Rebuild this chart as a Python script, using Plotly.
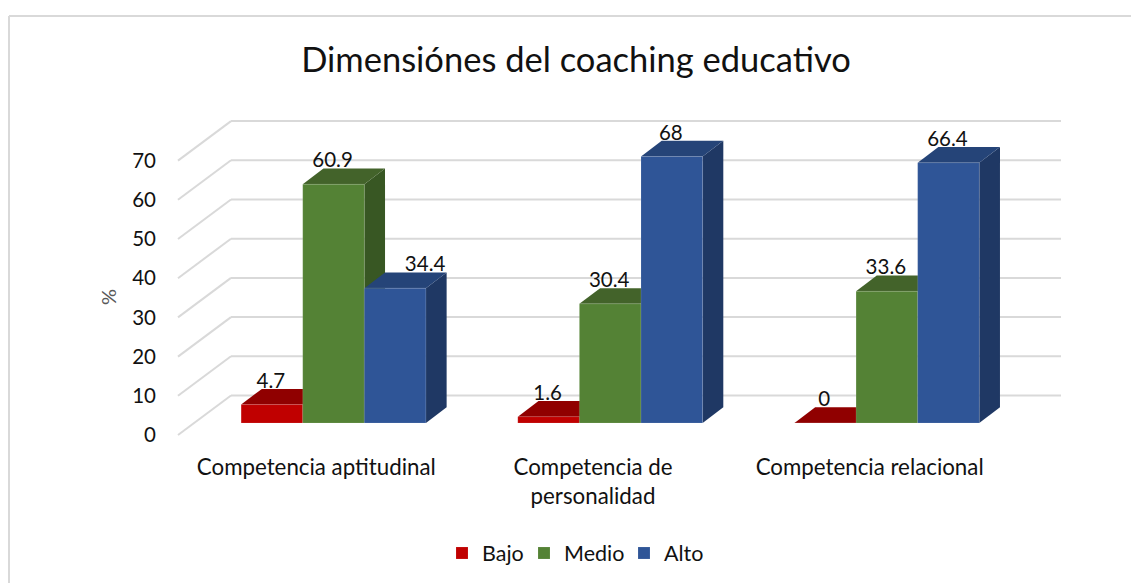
import plotly.graph_objects as go

# ---- data ----
categories = ["Competencia aptitudinal", "Competencia de<br>personalidad", "Competencia relacional"]
bajo = [4.7, 1.6, 0]
medio = [60.9, 30.4, 33.6]
alto = [34.4, 68, 66.4]
y_ticks = [0, 10, 20, 30, 40, 50, 60, 70]
title_text = "Dimensiónes del coaching educativo"

# ---- style / geometry ----
W, H = 1131, 583
wall_L, wall_R, wall_T, wall_B = 178, 1061, 121, 435   # extent of the drawn walls
PAD = 3                                                # plot area slightly larger, so lines are not clipped
L, R, T, B = wall_L - PAD, wall_R + PAD, wall_T - PAD, wall_B + PAD
FONT = "Lato"
TXT = "#111111"
GRID = "#d9d9d9"
series = [
    ("Bajo", bajo, "#c00000", "#900000", "#7a0000", "legend", 482),
    ("Medio", medio, "#548235", "#43632a", "#385723", "legend2", 564),
    ("Alto", alto, "#2f5597", "#254478", "#1f3864", "legend3", 664),
]
# scales: pixel sizes of one axis unit
unit_y = 3.92
wall_dx, wall_dy = 53.0, 39.5
cat_px = (wall_R - wall_L - wall_dx) / 3
ux = lambda px: px / cat_px
uy = lambda px: px / unit_y
x_min, x_max = -0.5, -0.5 + ux(wall_R - wall_L)
y_min = 0

bar_w = ux(61.6)            # width of one bar
group_shift = ux(17.2)      # groups stand inside the floor
base = uy(12)               # front of bars above front floor edge
depth_dx, depth_dy = ux(20.7), uy(15.7)
label_gap = uy(22)
label_dx = {("Alto", 0): ux(31)}

def poly(pts, color):
    d = "M " + " L ".join(f"{x},{y}" for x, y in pts) + " Z"
    return dict(type="path", path=d, xref="x", yref="y", fillcolor=color,
                line=dict(width=0), layer="below")

def fx(p): return (p - L) / (R - L)
def fy(p): return (B - p) / (B - T)

shapes = []
# chart frame: only the top and left edges are visible
for x0, y0, x1, y1 in [(9, 16, W, 16), (9, 16, 9, H)]:
    shapes.append(dict(type="line", xref="paper", yref="paper", x0=fx(x0), y0=fy(y0), x1=fx(x1), y1=fy(y1),
                       line=dict(color=GRID, width=2), layer="below"))
# walls' grid lines
for v in y_ticks:
    for x0, y0, x1, y1 in [(x_min, v, x_min + ux(wall_dx), v + uy(wall_dy)),
                           (x_min + ux(wall_dx), v + uy(wall_dy), x_max, v + uy(wall_dy))]:
        shapes.append(dict(type="line", xref="x", yref="y", x0=x0, y0=y0, x1=x1, y1=y1,
                           line=dict(color=GRID, width=2), layer="below"))

traces = []
lab_x, lab_y, lab_t = [], [], []
legends = {}
n = len(series)
for s, (name, vals, front, top, side, leg, leg_text_x) in enumerate(series):
    for c, v in enumerate(vals):
        left = c + group_shift + (s - n / 2) * bar_w
        right = left + bar_w
        tv = base + v
        # side face then top face, under every front face
        shapes.append(poly([(right, base), (right + depth_dx, base + depth_dy),
                            (right + depth_dx, tv + depth_dy), (right, tv)], side))
        shapes.append(poly([(left, tv), (left + depth_dx, tv + depth_dy),
                            (right + depth_dx, tv + depth_dy), (right, tv)], top))
        lab_x.append((left + right) / 2 - ux(1) + label_dx.get((name, c), 0))
        lab_y.append(tv + label_gap)
        lab_t.append(str(v))
    traces.append(go.Bar(
        name=name, legend=leg,
        x=[c + group_shift + (s - n / 2 + 0.5) * bar_w for c in range(len(vals))],
        y=vals, base=base, width=bar_w,
        marker=dict(color=front, line=dict(color="rgba(255,255,255,0.12)", width=1)),
        hovertemplate=name + ": %{y}<extra></extra>",
    ))
    legends[leg] = dict(orientation="h", x=(leg_text_x - 40) / W, xref="container", xanchor="left",
                        y=1 - 553 / H, yref="container", yanchor="middle", itemwidth=30,
                        bgcolor="rgba(0,0,0,0)", font=dict(family=FONT, size=21.5, color=TXT))

traces.append(go.Scatter(x=lab_x, y=lab_y, text=lab_t, mode="text", showlegend=False,
                         textposition="middle center", hoverinfo="skip",
                         textfont=dict(family=FONT, size=20.5, color=TXT), cliponaxis=False))

fig = go.Figure(traces)
fig.update_layout(
    width=W, height=H, autosize=False,
    margin=dict(l=L, r=W - R, t=T, b=H - B, pad=0),
    paper_bgcolor="white", plot_bgcolor="rgba(0,0,0,0)",
    barmode="overlay", showlegend=True,
    font=dict(family=FONT, color=TXT, size=20),
    title=dict(text=title_text, x=576 / W, xanchor="center", y=1 - 60 / H, yanchor="middle",
               font=dict(family=FONT, size=34.5, color=TXT)),
    xaxis=dict(range=[x_min - ux(PAD), x_max + ux(PAD)], tickmode="array", tickvals=[0, 1, 2], ticktext=categories,
               showgrid=False, zeroline=False, showline=False, ticks="", ticklabelstandoff=14,
               tickfont=dict(family=FONT, size=22.3, color=TXT), fixedrange=True),
    yaxis=dict(range=[y_min - uy(PAD), uy(wall_B - wall_T) + uy(PAD)], tickmode="array", tickvals=y_ticks,
               showgrid=False, zeroline=False, showline=False, ticks="", ticklabelstandoff=18,
               tickfont=dict(family=FONT, size=20.5, color=TXT), fixedrange=True),
    shapes=shapes,
    annotations=[dict(text="%", xref="paper", yref="paper", x=fx(108), y=fy(297), showarrow=False,
                      xanchor="center", yanchor="middle",
                      textangle=-90, font=dict(family=FONT, size=20, color="#595959"))],
    **legends,
)
fig.write_html("out.html", post_script="document.body.style.margin='0';",
               config={"displayModeBar": False})
